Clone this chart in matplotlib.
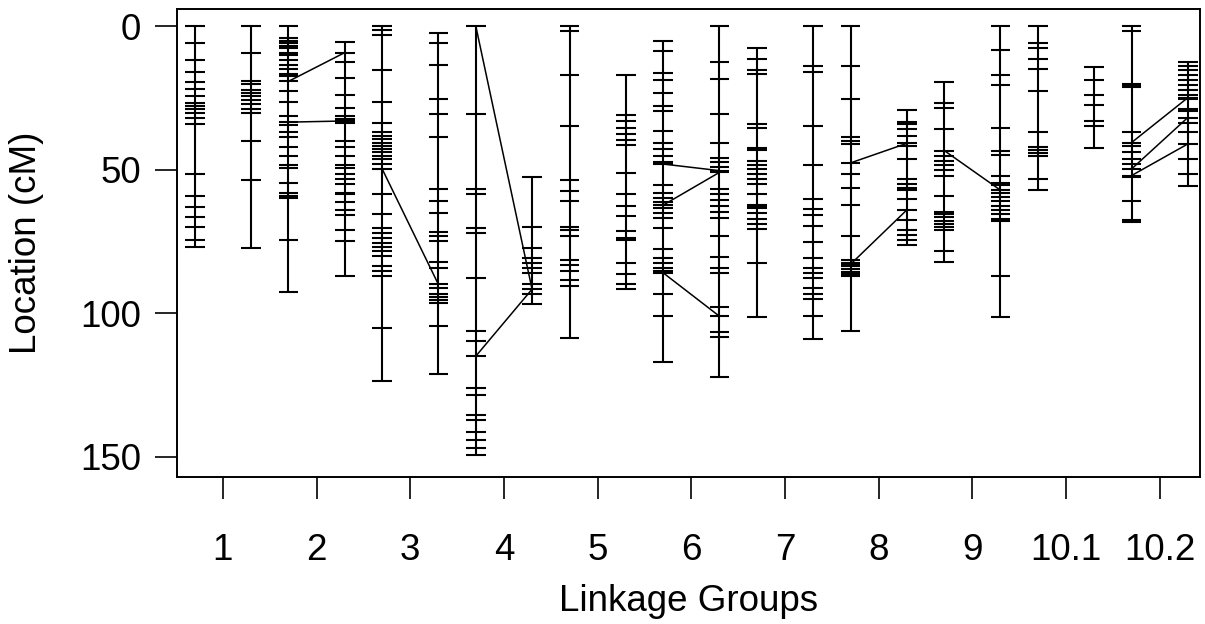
import numpy as np
import matplotlib
matplotlib.use("Agg")
import matplotlib.pyplot as plt

plt.rcParams['font.family'] = ['Liberation Sans', 'DejaVu Sans']

### MAP DATA (cM) ###

chroms = ['1', '2', '3', '4', '5', '6', '7', '8', '9', '10.1', '10.2']

# first map (left column of each group)
map1 = [
    [0, 5.8, 11.9, 16.1, 19.5, 21.8, 24.4, 26.7, 27.8, 29.0, 30.3, 31.8, 34.1, 51.6, 59.2, 63.1, 66.3, 69.9, 74.4, 76.9],
    [0, 4.2, 5.1, 6.0, 6.9, 7.7, 9.4, 10.0, 11.7, 13.4, 14.9, 16.6, 17.5, 19.2, 22.6, 26.4, 31.3, 33.4, 34.3, 37.0,
     38.7, 42.1, 45.1, 48.5, 49.4, 54.6, 58.0, 59.0, 60.0, 74.4, 92.5],
    [0, 1.4, 3.1, 15.2, 26.4, 33.6, 37.0, 38.2, 39.3, 40.5, 41.6, 42.8, 43.9, 45.1, 46.2, 47.9, 49.7, 58.3, 65.5,
     70.3, 72.1, 73.8, 75.5, 77.0, 78.4, 80.1, 83.6, 85.3, 87.0, 105.2, 123.5],
    [0, 30.5, 56.6, 58.5, 70.3, 72.1, 87.8, 106.2, 109.7, 114.9, 126.1, 128.4, 135.3, 137.0, 141.4, 144.1, 146.8, 149.4],
    [0, 1.7, 16.9, 34.9, 53.7, 57.4, 60.9, 69.8, 70.9, 73.2, 81.3, 83.2, 85.3, 88.5, 90.5, 108.6],
    [5.1, 8.5, 16.3, 18.6, 23.2, 27.8, 29.5, 36.4, 40.5, 42.8, 45.1, 47.4, 48.0, 55.4, 58.0, 60.0, 61.2, 62.3, 63.4,
     65.2, 66.9, 70.3, 77.5, 80.7, 82.4, 84.1, 85.3, 85.9, 93.3, 100.8, 117.1],
    [7.5, 11.4, 15.2, 16.6, 33.9, 35.5, 42.5, 43.2, 46.8, 48.3, 49.7, 51.4, 53.1, 54.8, 58.3, 62.3, 62.9, 63.4, 65.2,
     67.1, 69.0, 70.6, 82.4, 101.4],
    [0, 13.8, 25.3, 38.7, 39.9, 41.0, 47.6, 51.4, 56.3, 62.3, 72.9, 81.3, 82.3, 82.9, 83.6, 84.5, 85.5, 86.2, 87.0, 106.0],
    [19.5, 26.7, 28.4, 35.9, 43.3, 45.1, 46.8, 48.5, 50.2, 52.0, 59.1, 64.6, 65.5, 66.3, 68.0, 69.0, 70.0, 71.0, 78.2, 82.1],
    [0, 5.8, 7.7, 11.5, 14.8, 22.4, 36.7, 42.2, 43.2, 44.2, 45.1, 53.3, 56.9],
    [0, 1.6, 20.0, 20.6, 21.1, 36.8, 40.5, 41.6, 43.9, 46.2, 47.9, 49.7, 52.0, 52.6, 60.9, 67.6, 68.2],
]

# second map (right column of each group)
map2 = [
    [0, 9.4, 19.2, 20.0, 22.1, 23.2, 24.4, 25.8, 27.2, 28.7, 30.1, 39.9, 53.7, 77.2],
    [5.4, 9.2, 12.5, 18.0, 23.8, 28.4, 31.3, 32.2, 33.0, 33.8, 39.9, 42.2, 45.1, 48.5, 49.4, 51.4, 53.1, 54.8, 58.0,
     58.6, 61.1, 64.0, 65.8, 70.9, 74.9, 87.0],
    [2.3, 6.0, 13.4, 25.3, 30.7, 38.7, 56.6, 60.9, 64.9, 71.7, 73.2, 74.9, 82.1, 84.1, 89.9, 91.0, 93.3, 94.3, 95.3,
     96.3, 104.5, 121.1],
    [52.5, 69.8, 77.2, 80.7, 82.4, 84.1, 85.9, 89.9, 91.6, 93.3, 96.8],
    [17.1, 31.0, 33.0, 35.3, 37.6, 39.5, 41.4, 51.0, 58.6, 62.5, 66.0, 71.3, 73.8, 74.4, 82.4, 86.2, 89.7, 91.4],
    [0, 12.6, 18.4, 30.5, 40.5, 46.0, 47.4, 49.1, 50.3, 50.9, 56.6, 58.6, 60.6, 62.5, 64.8, 66.9, 72.9, 80.5, 84.1,
     85.9, 97.7, 101.0, 106.6, 108.3, 122.3],
    [0, 14.0, 15.8, 34.9, 48.5, 60.3, 63.8, 65.8, 69.5, 75.2, 80.7, 84.1, 85.9, 87.8, 91.0, 93.3, 95.1, 100.8, 109.1],
    [29.2, 33.3, 33.9, 35.9, 38.2, 40.8, 41.6, 46.2, 53.1, 54.8, 56.3, 56.9, 60.2, 64.0, 67.5, 70.9, 72.6, 74.4, 76.3],
    [0, 8.3, 16.9, 20.3, 35.6, 43.3, 44.7, 52.0, 54.5, 55.2, 57.1, 58.0, 59.5, 61.0, 62.5, 64.0, 65.5, 67.0, 68.0,
     87.0, 101.4],
    [14.2, 18.6, 24.1, 27.6, 33.0, 34.7, 42.5],
    [12.3, 13.8, 15.4, 17.1, 18.9, 20.3, 22.1, 23.8, 24.9, 25.5, 29.0, 29.6, 31.8, 33.8, 37.0, 41.0, 46.2, 51.4, 55.6],
]

# shared markers joined between the two maps: (pos in map1, pos in map2)
links = [
    [],
    [(19.2, 9.2), (33.4, 33.0)],
    [(49.7, 89.9)],
    [(0, 91.6), (114.9, 91.6)],
    [],
    [(48.0, 50.3), (62.3, 50.9), (85.9, 101.0)],
    [],
    [(47.6, 40.8), (82.9, 64.0)],
    [(43.3, 57.1)],
    [],
    [(40.5, 24.9), (49.7, 31.8), (52.0, 41.0)],
]

off = 0.3      # column offset from group centre
hw = 0.105     # half width of marker ticks
lw = 1.5
fs = 26.5

### PLOT ###

fig = plt.figure(figsize=(12.05, 6.24), dpi=100)
ax = fig.add_axes([177/1205, 1 - 477/624, 1023/1205, 468/624])

for i in range(len(chroms)):
    xc = i + 1
    for pos, x in ((map1[i], xc - off), (map2[i], xc + off)):
        pos = np.array(pos)
        ax.plot([x, x], [pos.min(), pos.max()], color='black', lw=lw, solid_capstyle='butt')
        for p in pos:
            ax.plot([x - hw, x + hw], [p, p], color='black', lw=lw, solid_capstyle='butt')
    for a, b in links[i]:
        ax.plot([xc - off, xc + off], [a, b], color='black', lw=1.1)

ax.set_xlim(0.51, 11.43)
ax.set_ylim(157, -6)
ax.set_xticks(np.arange(1, len(chroms) + 1))
ax.set_xticklabels(chroms)
ax.set_yticks([0, 50, 100, 150])

for s in ax.spines.values():
    s.set_linewidth(1.4)
ax.tick_params(axis='both', length=16, width=1.2, labelsize=fs, color='black')
ax.tick_params(axis='x', pad=24)
ax.tick_params(axis='y', pad=10)

ax.set_xlabel('Linkage Groups', fontsize=fs)
ax.set_ylabel('Location (cM)', fontsize=fs)
ax.xaxis.set_label_coords(0.5, -0.267)
ax.yaxis.set_label_coords(-0.147, 0.5)
ax.xaxis.label.set_va('center')
ax.yaxis.label.set_va('center')

fig.savefig('out.png', dpi=100)
